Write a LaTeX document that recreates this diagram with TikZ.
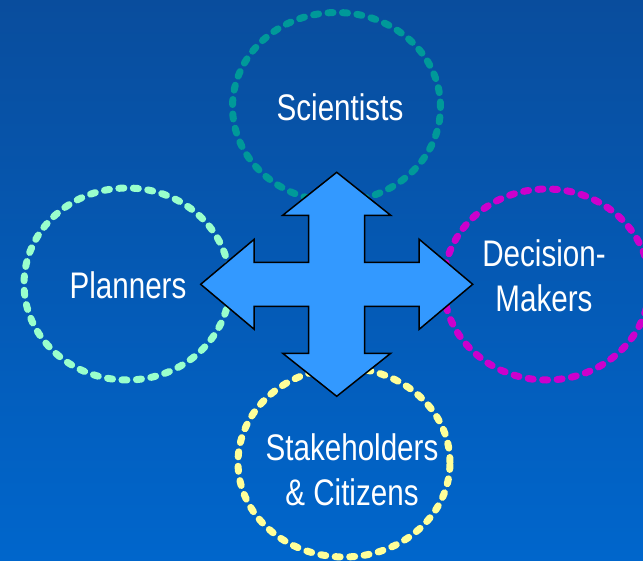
\documentclass[tikz,border=0pt]{standalone}
\usepackage{fontspec}
\setmainfont[FakeStretch=0.8]{Liberation Sans}
\usetikzlibrary{shapes.geometric}

\definecolor{deepblue}{RGB}{9,77,157}
\definecolor{paleblue}{RGB}{0,102,204}
\definecolor{arrowblue}{RGB}{51,153,255}
\definecolor{scicol}{RGB}{0,153,153}
\definecolor{plancol}{RGB}{153,255,204}
\definecolor{deccol}{RGB}{204,0,204}
\definecolor{stkcol}{RGB}{255,255,153}

\tikzset{
	ring/.style={ellipse, draw=#1, line width=7pt, line cap=round, dash pattern=on 5pt off 9.5pt, inner sep=0pt},
	tag/.style={text=white, font=\fontsize{37}{45}\selectfont, align=center},
}

\begin{document}
\begin{tikzpicture}[x=1pt, y=-1pt]
	\shade[top color=deepblue, bottom color=paleblue] (0,0) rectangle (643,561);
	\useasboundingbox (0,0) rectangle (643,561);

	% the four groups
	\node[ring=scicol, minimum width=208pt, minimum height=189pt] (sci) at (336.5,107) {};
	\node[ring=plancol, minimum width=206pt, minimum height=192pt] (plan) at (127,284) {};
	\node[ring=deccol, minimum width=206pt, minimum height=191pt] (dec) at (546.5,284.5) {};
	\node[ring=stkcol, minimum width=212pt, minimum height=189pt] (stk) at (344,462.5) {};

	% four-way arrow in the middle
	\coordinate (hub) at (336.7,284.3);
	\begin{scope}[shift={(hub)}]
		\draw[fill=arrowblue, line width=1.5pt, line join=miter]
			(0,-112) -- (54,-69) -- (28,-69) -- (28,-22) -- (82.5,-22) -- (82.5,-45)
			-- (136,0) -- (82.5,45) -- (82.5,22) -- (28,22) -- (28,69) -- (54,69)
			-- (0,112) -- (-54,69) -- (-28,69) -- (-28,22) -- (-82.5,22) -- (-82.5,45)
			-- (-136,0) -- (-82.5,-45) -- (-82.5,-22) -- (-28,-22) -- (-28,-69) -- (-54,-69) -- cycle;
	\end{scope}

	\node[tag] (scitxt) at (340,107) {Scientists};
	\node[tag] (plantxt) at (128,285) {Planners};
	\node[tag] (dectxt) at (544,275.5) {Decision-\\Makers};
	\node[tag] (stktxt) at (352,470) {Stakeholders\\\& Citizens};
\end{tikzpicture}
\end{document}
